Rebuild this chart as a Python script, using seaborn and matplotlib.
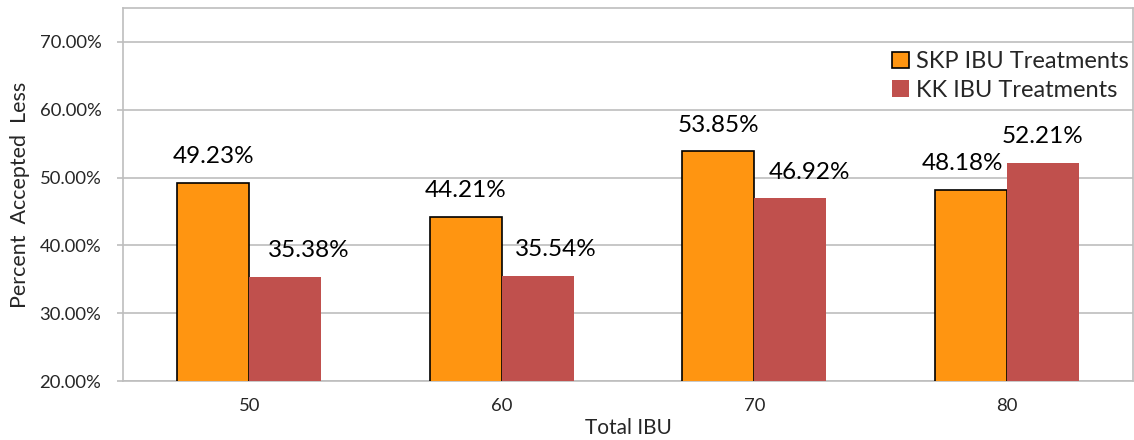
import matplotlib
matplotlib.use("Agg")
import matplotlib.pyplot as plt
import matplotlib.ticker as mticker
from matplotlib.patches import Patch
import seaborn as sns
import pandas as pd

# Data
ibu_levels = ["50", "60", "70", "80"]
skp_values = [49.23, 44.21, 53.85, 48.18]
kk_values = [35.38, 35.54, 46.92, 52.21]
series_names = ["SKP IBU Treatments", "KK IBU Treatments"]
y_ticks = [20, 30, 40, 50, 60, 70]

# Horizontal nudges (points) for the value labels, per series
skp_label_dx = [0, 0, 0, -6]
kk_label_dx = [17, 13, 14, 0]

sns.set_style("white")
plt.rcParams["font.family"] = ["Lato", "DejaVu Sans"]

df = pd.DataFrame({
    "Total IBU": ibu_levels * 2,
    "Percent": skp_values + kk_values,
    "Series": [series_names[0]] * 4 + [series_names[1]] * 4,
})

orange = "#FF9511"
red = "#C0504D"
grid_gray = "#BEBEBE"

fig = plt.figure(figsize=(11.34, 4.40), dpi=100)
ax = fig.add_axes([123 / 1134, 1 - 381 / 440, (1133 - 123) / 1134, (381 - 8) / 440])

sns.barplot(
    data=df, x="Total IBU", y="Percent", hue="Series",
    hue_order=series_names, palette=[orange, red],
    width=0.57, saturation=1, ax=ax, legend=False, zorder=3,
)

# Outline only the SKP bars
for bar in ax.containers[0]:
    bar.set_edgecolor("black")
    bar.set_linewidth(1.2)
for bar in ax.containers[1]:
    bar.set_edgecolor("none")
    bar.set_linewidth(0)

# Value labels
for container, values, dxs in [(ax.containers[0], skp_values, skp_label_dx),
                               (ax.containers[1], kk_values, kk_label_dx)]:
    for bar, v, dx in zip(container, values, dxs):
        ax.annotate(f"{v:.2f}%",
                    xy=(bar.get_x() + bar.get_width() / 2, bar.get_height()),
                    xytext=(dx, 14), textcoords="offset points",
                    ha="center", va="baseline", fontsize=17.5, color="black")

ax.set_ylim(20, 75)
ax.set_xlim(-0.5, 3.5)
ax.set_yticks(y_ticks)
ax.yaxis.set_major_formatter(mticker.FuncFormatter(lambda v, p: f"{v:.2f}%"))
ax.grid(axis="y", color=grid_gray, linewidth=1.2, zorder=0)
ax.set_axisbelow(True)

for side in ["left", "right", "top", "bottom"]:
    ax.spines[side].set_visible(True)
    ax.spines[side].set_color(grid_gray)
    ax.spines[side].set_linewidth(1.2)

ax.tick_params(axis="y", length=4.5, width=1.2, color=grid_gray,
               labelsize=13.3, pad=11, left=True)
ax.tick_params(axis="x", length=0, labelsize=13.3, pad=12)

ax.set_xlabel("Total IBU", fontsize=15, labelpad=3)
ax.set_ylabel("Percent  Accepted  Less", fontsize=15.5, labelpad=7)

handles = [Patch(facecolor=orange, edgecolor="black", linewidth=1.2),
           Patch(facecolor=red, edgecolor="none")]
ax.legend(handles, series_names, loc="upper right",
          bbox_to_anchor=(1.012, 0.928), frameon=False, fontsize=17,
          handlelength=0.7, handleheight=0.7, handletextpad=0.3,
          labelspacing=0.32, borderaxespad=0.3)

fig.savefig("out.png", dpi=100)
